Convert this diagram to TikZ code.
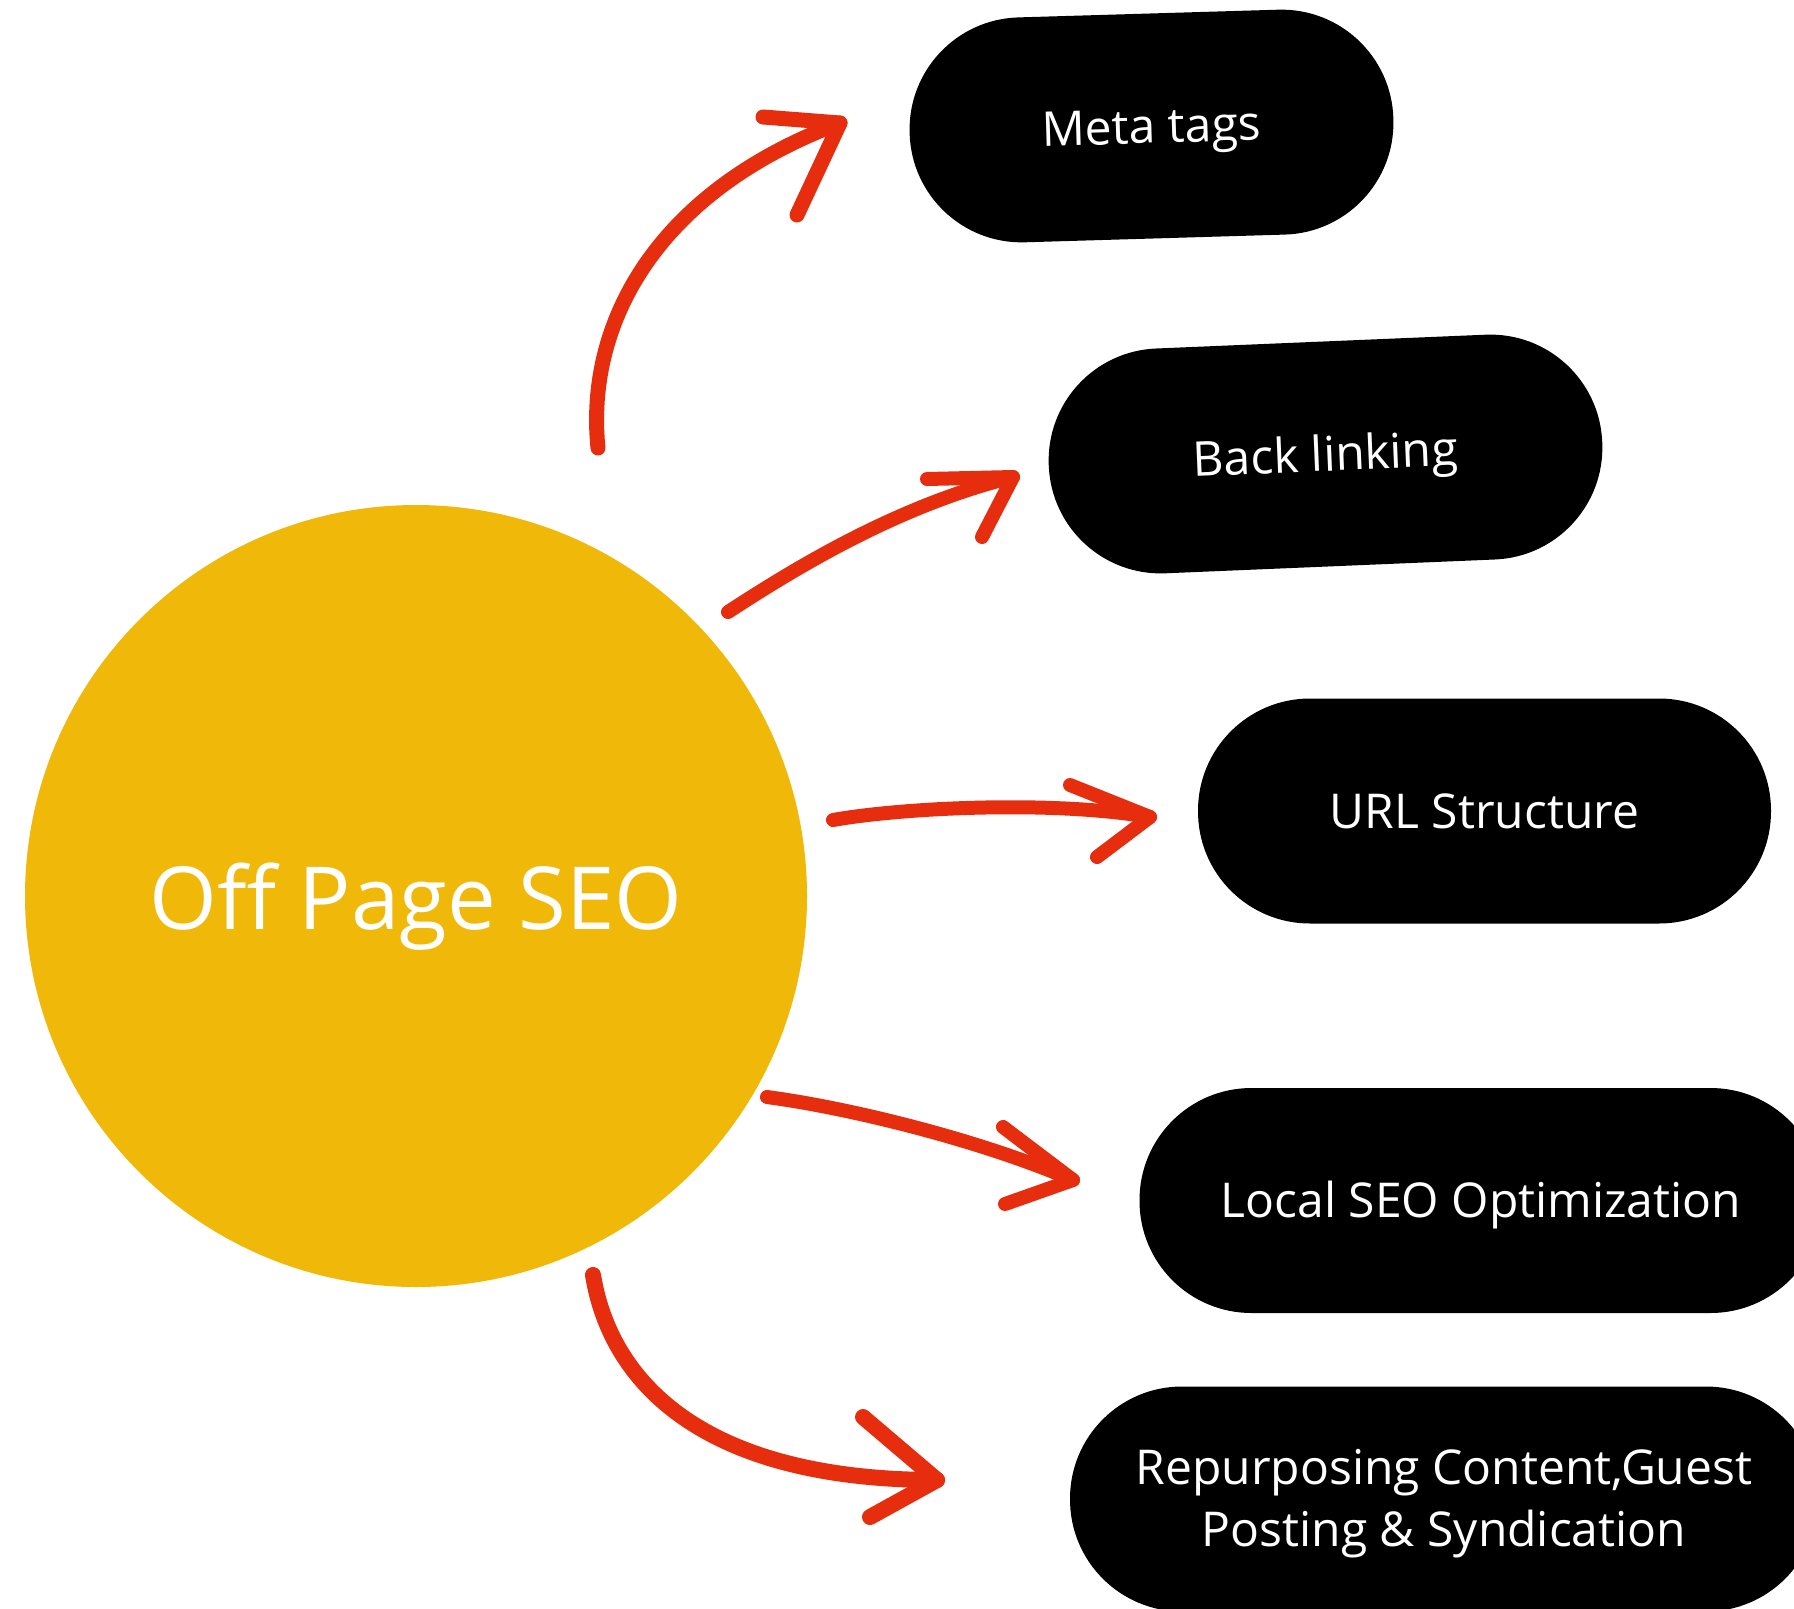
\documentclass[tikz,border=0pt]{standalone}
\usepackage{fontspec}
\setmainfont{Open Sans}
\usepackage{xcolor}

\definecolor{seoyellow}{RGB}{240,185,10}
\definecolor{arrowred}{RGB}{230,46,15}

\tikzset{
  pill/.style={fill=black, rounded corners=112pt, minimum height=225pt, inner sep=0pt,
    text=white, text height=46.3pt, text depth=12pt, font=\fontsize{48}{62}\selectfont},
  hand/.style={draw=arrowred, line width=14pt, line cap=round, line join=round},
}

\begin{document}
\begin{tikzpicture}[x=1pt,y=1pt,yscale=-1,xscale=1]
    \clip (0,0) rectangle (1794,1609);

    % hub circle
    \node [circle, fill=seoyellow, minimum size=782pt, inner sep=0pt] (hub) at (416,896) {};
    \node [anchor=base, text=white, inner sep=0pt, font=\fontsize{87}{100}\selectfont] (hublabel) at (416,929) {Off Page SEO};

    % pills
    \node [pill, minimum width=484pt, rotate=1.7] (meta) at (1151.5,126) {Meta tags};
    \node [pill, minimum width=554pt, rotate=2.4] (back) at (1325.5,454) {Back linking};
    \node [pill, minimum width=573pt] (url) at (1484.5,811) {URL Structure};
    \node [pill, minimum width=683pt] (local) at (1481,1200.5) {Local SEO Optimization};
    \node [pill, minimum width=748pt] (repurp) at (1444,1499) {};
    \node [text=white, inner sep=0pt, align=center, font=\fontsize{48}{62}\selectfont] (repurplabel) at (1444,1504) {Repurposing Content,Guest\\Posting \& Syndication};

    % arrow ends
    \coordinate (s1) at (598,448);   \coordinate (e1) at (840,123);
    \coordinate (e1a) at (763,117);  \coordinate (e1b) at (797,215);
    \coordinate (s2) at (728,612);   \coordinate (e2) at (1013,477);
    \coordinate (e2a) at (927,479);  \coordinate (e2b) at (982,537);
    \coordinate (s3) at (833,820);   \coordinate (e3) at (1150,817);
    \coordinate (e3a) at (1070,785); \coordinate (e3b) at (1097,857);
    \coordinate (s4) at (767,1097);  \coordinate (e4) at (1073,1180);
    \coordinate (e4a) at (1003,1127);\coordinate (e4b) at (1005,1204);
    \coordinate (s5) at (593,1275);  \coordinate (e5) at (937,1480);
    \coordinate (e5a) at (863,1417); \coordinate (e5b) at (870,1517);

    % arrows
    \draw [hand, line width=15pt] (s1) .. controls (585,320) and (660,190) .. (e1);
    \draw [hand, line width=15pt] (e1a) -- (e1) -- (e1b);
    \draw [hand] (s2) .. controls (800,565) and (900,505) .. (e2);
    \draw [hand] (e2a) -- (e2) -- (e2b);
    \draw [hand] (s3) .. controls (900,808) and (1050,800) .. (e3);
    \draw [hand] (e3a) -- (e3) -- (e3b);
    \draw [hand] (s4) .. controls (850,1108) and (980,1140) .. (e4);
    \draw [hand] (e4a) -- (e4) -- (e4b);
    \draw [hand, line width=16pt] (s5) .. controls (610,1380) and (700,1480) .. (e5);
    \draw [hand, line width=16pt] (e5a) -- (e5) -- (e5b);

\end{tikzpicture}
\end{document}
